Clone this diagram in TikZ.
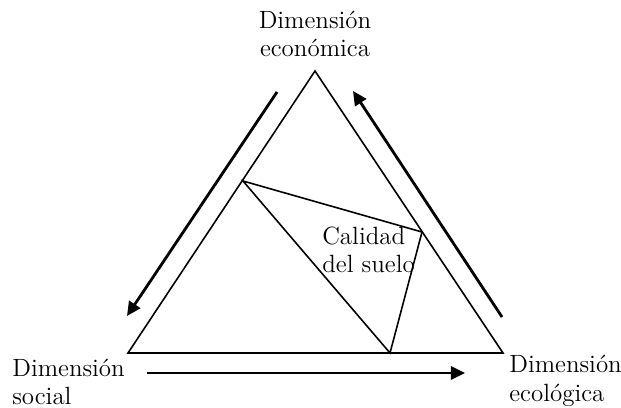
\documentclass[tikz,border=0pt]{standalone}
\usepackage{fontspec}
\usetikzlibrary{arrows.meta,positioning}
\tikzset{
  edge/.style={line width=0.9pt, line join=miter},
  flowarr/.style={-{Triangle[length=8pt, width=7.5pt]}, line width=1.6pt},
  dimlabel/.style={align=left, inner sep=0pt, font=\fontsize{14.2}{16.2}\selectfont}
}
\begin{document}
\begin{tikzpicture}[x=0.02cm, y=-0.02cm]
  \useasboundingbox (0,0) rectangle (621,408);
  % outer triangle
  \coordinate (econ) at (315,71);
  \coordinate (soc) at (128,353);
  \coordinate (ecol) at (503,353);
  \draw[edge] (econ) -- (soc) -- (ecol) -- cycle;
  % inner triangle
  \coordinate (qa) at (243,181);
  \coordinate (qb) at (422,232);
  \coordinate (qc) at (390,353);
  \draw[edge] (qa) -- (qb) -- (qc) -- cycle;
  % labels
  \node[dimlabel, align=center] (econlbl) at (315,34) {Dimensión\\económica};
  \node[dimlabel, anchor=west] (soclbl) at (12,382) {Dimensión\\social};
  \node[dimlabel, anchor=west] (ecollbl) at (509,381) {Dimensión\\ecológica};
  \node[dimlabel, anchor=west] (suelo) at (322,250) {Calidad\\del suelo};
  % arrows
  \coordinate (la) at (277,92);
  \coordinate (lb) at (127,316);
  \coordinate (ra) at (502,317);
  \coordinate (rb) at (353,91);
  \coordinate (ba) at (147,373);
  \coordinate (bb) at (465,373);
  \draw[flowarr] (la) -- (lb);
  \draw[flowarr] (ra) -- (rb);
  \draw[flowarr] (ba) -- (bb);
\end{tikzpicture}
\end{document}
